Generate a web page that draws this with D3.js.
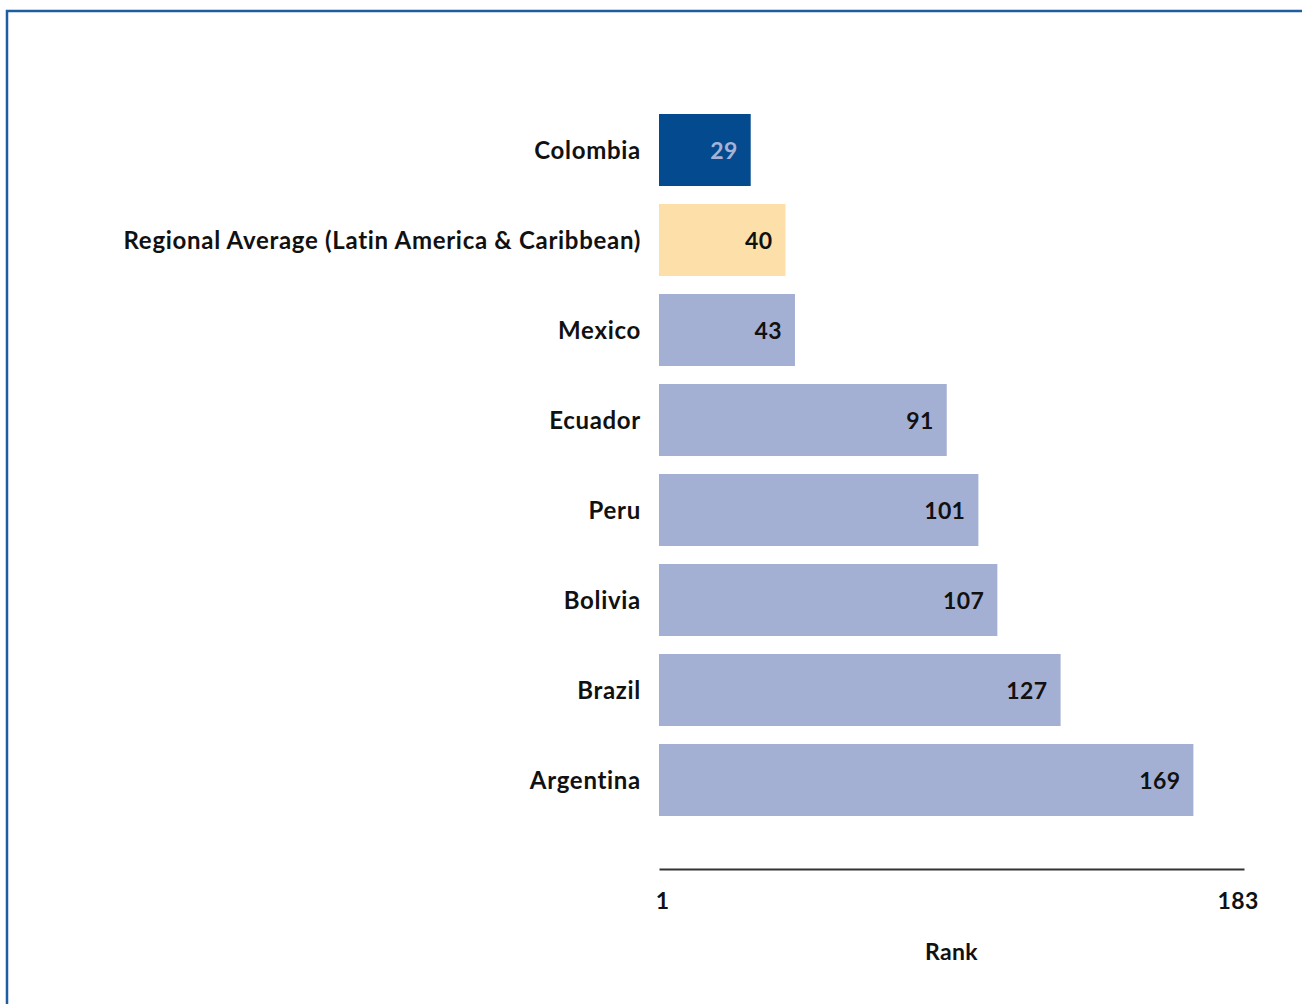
<!DOCTYPE html>
<html>
<head>
<meta charset="utf-8">
<script src="https://cdn.jsdelivr.net/npm/d3@7"></script>
<style>
  html, body { margin: 0; padding: 0; background: #fff; }
  svg text { font-family: Lato, "Open Sans", sans-serif; font-weight: bold; }
</style>
</head>
<body>
<svg id="chart" width="1302" height="1004"></svg>
<script>
const categories = ["Colombia", "Regional Average (Latin America & Caribbean)", "Mexico", "Ecuador", "Peru", "Bolivia", "Brazil", "Argentina"];
const ranks = [29, 40, 43, 91, 101, 107, 127, 169];
const barColors = ["#044a8e", "#fde0a9", "#a4b0d3", "#a4b0d3", "#a4b0d3", "#a4b0d3", "#a4b0d3", "#a4b0d3"];
const valueColors = ["#a7b3d6", "#111", "#111", "#111", "#111", "#111", "#111", "#111"];
const tickValues = [1, 183];
const axisTitle = "Rank";

const svg = d3.select("#chart");

// frame
svg.append("path")
  .attr("d", "M7,1004 V11 H1302")
  .attr("fill", "none")
  .attr("stroke", "#1f5da3")
  .attr("stroke-width", 2.5);

const x = d3.scaleLinear().domain([0, 185]).range([659, 1244]);
const y = d3.scaleBand().domain(categories).range([105, 825]).paddingInner(0.2).paddingOuter(0.1);

const data = categories.map((c, i) => ({ c, v: ranks[i], fill: barColors[i], tc: valueColors[i] }));

svg.selectAll("rect.bar").data(data).join("rect")
  .attr("class", "bar")
  .attr("x", x(0))
  .attr("y", d => y(d.c))
  .attr("width", d => x(d.v) - x(0))
  .attr("height", y.bandwidth())
  .attr("fill", d => d.fill);

svg.selectAll("text.val").data(data).join("text")
  .attr("class", "val")
  .attr("x", d => x(d.v) - 13)
  .attr("y", d => y(d.c) + y.bandwidth() / 2 + 1)
  .attr("dy", "0.35em")
  .attr("text-anchor", "end")
  .attr("font-size", 23)
  .attr("letter-spacing", "0.4px")
  .attr("fill", d => d.tc)
  .text(d => d.v);

svg.selectAll("text.cat").data(data).join("text")
  .attr("class", "cat")
  .attr("x", 641)
  .attr("y", d => y(d.c) + y.bandwidth() / 2 + 1)
  .attr("dy", "0.35em")
  .attr("text-anchor", "end")
  .attr("font-size", 24)
  .attr("letter-spacing", "0.7px")
  .attr("fill", "#111")
  .text(d => d.c);

const axis = d3.axisBottom(x).tickValues(tickValues).tickSize(0).tickPadding(24);
const gx = svg.append("g").attr("transform", "translate(0,869)").call(axis);
gx.select(".domain").attr("stroke", "#333").attr("stroke-width", 2);
gx.selectAll("text")
  .attr("font-size", 23)
  .attr("font-family", "Lato, sans-serif")
  .attr("font-weight", "bold")
  .attr("letter-spacing", "0.4px")
  .attr("fill", "#111");

svg.append("text")
  .attr("x", (x.range()[0] + x.range()[1]) / 2)
  .attr("y", 952)
  .attr("dy", "0.35em")
  .attr("text-anchor", "middle")
  .attr("font-size", 23)
  .attr("letter-spacing", "0.4px")
  .attr("fill", "#111")
  .text(axisTitle);
</script>
</body>
</html>
